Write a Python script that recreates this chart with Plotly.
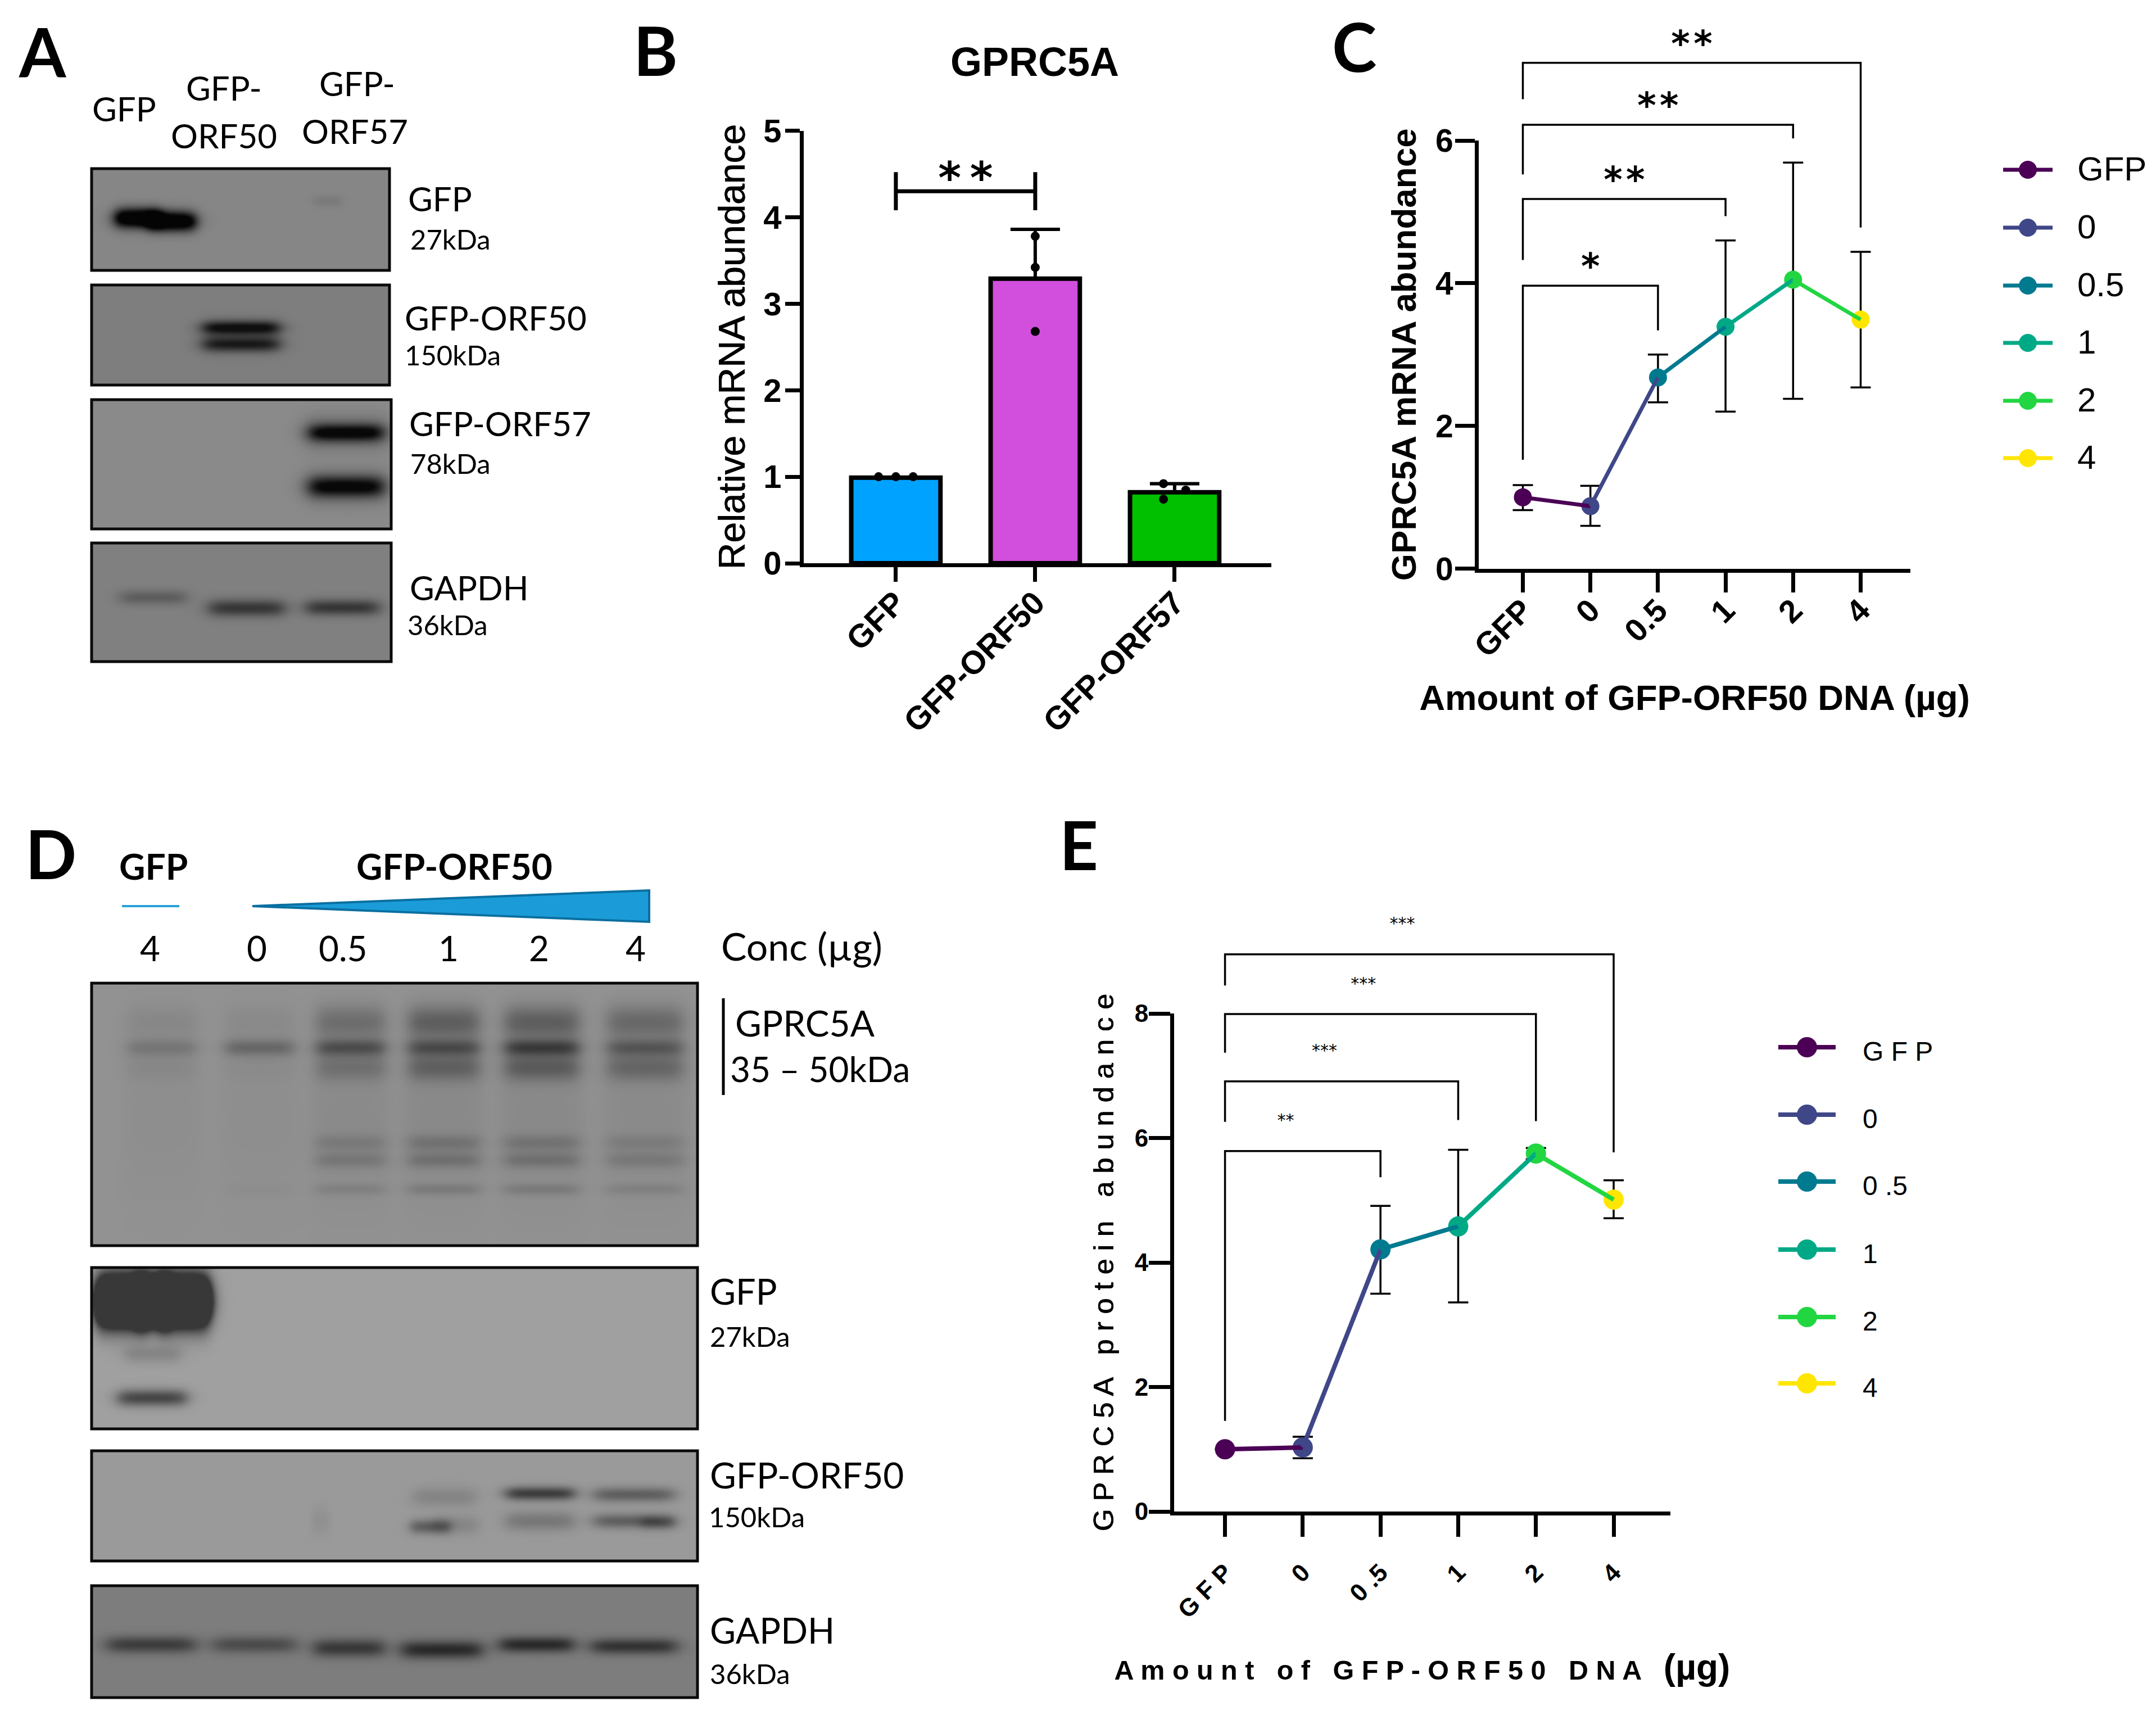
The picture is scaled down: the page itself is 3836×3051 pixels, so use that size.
import numpy as np
import plotly.graph_objects as go

W, H = 3836, 3051
SANS = "Liberation Sans"
LATO = "Lato"

# ---- data ----
B_CATEGORIES = ["GFP", "GFP-ORF50", "GFP-ORF57"]
B_MEANS = [0.99, 3.29, 0.82]
B_ERR_UP = [0.0, 0.57, 0.10]
B_COLORS = ["#00A2FF", "#D24FDD", "#00C000"]
B_POINT_GROUP = [0, 0, 0, 1, 1, 1, 2, 2, 2]
B_POINT_JITTER = [-0.124, 0, 0.124, 0, 0, 0, -0.08, 0.08, -0.08]
B_POINTS = [1.0, 1.0, 1.0, 3.78, 3.42, 2.68, 0.92, 0.845, 0.74]

DOSE_COLORS = ["#4B0055", "#3F4788", "#007A8F", "#00A986", "#22D642", "#FFE600"]

C_LABELS = ["GFP", "0", "0.5", "1", "2", "4"]
C_MEANS = [1.0, 0.875, 2.68, 3.39, 4.05, 3.49]
C_UP = [1.17, 1.16, 3.0, 4.6, 5.69, 4.44]
C_LOW = [0.82, 0.60, 2.33, 2.2, 2.38, 2.54]
# bracket: right group, left foot, top, right foot, stars
C_BRACKET_TO = [2, 3, 4, 5]
C_BRACKET_LEFT = [1.525, 4.325, 5.525, 6.58]
C_BRACKET_TOP = [3.966, 5.18, 6.22, 7.09]
C_BRACKET_RIGHT = [3.34, 4.94, 6.03, 4.78]
C_STARS = ["*", "*\u200a*", "*\u200a*", "*\u200a*"]

E_LABELS = ["G F P", "0", "0 .5", "1", "2", "4"]
E_MEANS = [1.0, 1.03, 4.21, 4.58, 5.75, 5.01]
E_UP = [1.0, 1.2, 4.91, 5.81, 5.84, 5.32]
E_LOW = [1.0, 0.855, 3.5, 3.36, 5.66, 4.71]
E_BRACKET_TO = [2, 3, 4, 5]
E_BRACKET_LEFT = [1.455, 6.26, 7.37, 8.45]
E_BRACKET_TOP = [5.79, 6.91, 7.99, 8.95]
E_BRACKET_RIGHT = [5.37, 6.29, 6.27, 5.77]
E_STARS = ["**", "***", "***", "***"]

# blots: (x0, x1, y0, y1, background grey, darkest grey, bands [centre x, centre y, half w, half h, darkening])
BLOT_A1 = (163, 693, 300, 481, 134, 4, [(245, 386, 40, 17, 130), (305, 394, 42, 17, 130), (273, 390, 70, 18, 60), (582, 357, 25, 10, 12)])
BLOT_A2 = (163, 693, 507, 685, 126, 15, [(428, 582, 67, 12, 105), (428, 612, 67, 13, 85), (428, 597, 67, 26, 25)])
BLOT_A3 = (163, 696, 711, 941, 138, 8, [(615, 769, 64, 15, 110), (615, 865, 64, 18, 105), (615, 769, 72, 28, 40), (615, 865, 72, 28, 40)])
BLOT_A4 = (163, 696, 966, 1177, 128, 20, [(272, 1062, 58, 13, 35), (438, 1081, 66, 15, 75), (608, 1080, 64, 14, 75)])
D1_LANES = [287, 461, 623, 789, 963, 1147]
D1_WIDTHS = [60, 60, 60, 62, 65, 66]
D1_MAIN = [25, 40, 60, 60, 75, 50]
D1_SMEAR = [10, 8, 35, 50, 50, 40]
D1_LOWER = [8, 5, 30, 45, 50, 40]
D1_FAINT_A = [0, 0, 18, 25, 24, 16]
D1_FAINT_B = [0, 0, 22, 28, 28, 20]
D1_FAINT_C = [0, 3, 14, 20, 20, 14]
D1_WASH = [4, 4, 8, 9, 9, 8]
BLOT_D2 = (163, 1241, 2255, 2542, 160, 56, [(218, 2314, 46, 42, 400), (325, 2314, 46, 42, 400), (271, 2314, 30, 36, 400), (271, 2408, 50, 16, 25), (270, 2486, 60, 15, 90)])
BLOT_D3 = (163, 1241, 2581, 2777, 154, 30, [(569, 2705, 15, 25, 10), (790, 2662, 55, 17, 22), (765, 2715, 35, 13, 60), (810, 2712, 40, 17, 20),
                                            (960, 2656, 60, 12, 95), (960, 2705, 60, 17, 35), (1127, 2658, 70, 13, 60), (1127, 2705, 70, 13, 60), (1170, 2708, 30, 12, 30)])
BLOT_D4 = (163, 1241, 2821, 3020, 125, 15, [(268, 2925, 78, 15, 65), (452, 2925, 73, 15, 50), (620, 2931, 62, 16, 70), (785, 2934, 71, 16, 85), (954, 2925, 65, 14, 85), (1127, 2928, 75, 14, 75)])

BLOT_D1 = (163, 1241, 1749, 2216, 146, 30, [])
for cx, hw, m, s, lo, a, b, c, wash in zip(D1_LANES, D1_WIDTHS, D1_MAIN, D1_SMEAR, D1_LOWER, D1_FAINT_A, D1_FAINT_B, D1_FAINT_C, D1_WASH):
    BLOT_D1[6].extend([(cx, 1863, hw, 15, m), (cx, 1818, hw, 30, s), (cx, 1898, hw, 24, lo),
                       (cx, 2032, hw, 14, a), (cx, 2063, hw, 14, b), (cx, 2115, hw, 10, c), (cx, 1990, hw + 10, 150, wash)])

fig = go.Figure()


def blot_trace(spec, step=3):
    x0, x1, y0, y1, bg, floor, bands = spec
    xs = np.arange(x0, x1 + 1, step, dtype=float)
    ys = np.arange(y0, y1 + 1, step, dtype=float)
    z = np.full((len(ys), len(xs)), float(bg))
    for cx, cy, hw, hh, d in bands:
        e = 0.2 * hw + 4
        px = 0.5 * (np.tanh((xs - (cx - hw)) / e) - np.tanh((xs - (cx + hw)) / e))
        py = np.exp(-(((ys - cy) / hh) ** 2))
        z -= d * np.outer(py, px)
    z = np.clip(z, floor, 255).round()
    fig.add_trace(go.Heatmap(x=xs, y=ys, z=z, colorscale=[[0, "#000"], [1, "#fff"]], zmin=0, zmax=255,
                             showscale=False, zsmooth="best", hoverinfo="skip", xaxis="x", yaxis="y"))
    return dict(type="rect", xref="x", yref="y", x0=x0, x1=x1, y0=y0, y1=y1,
                line=dict(color="#0a0a0a", width=5), fillcolor="rgba(0,0,0,0)", layer="above")


shapes = [blot_trace(s) for s in [BLOT_A1, BLOT_A2, BLOT_A3, BLOT_A4, BLOT_D1, BLOT_D2, BLOT_D3, BLOT_D4]]
shapes.append(dict(type="path", xref="x", yref="y", path="M449,1612 L1155,1584 L1155,1640 Z",
                   fillcolor="#1B9CD8", line=dict(color="#0B6FA0", width=4), layer="above"))
shapes.append(dict(type="line", xref="x", yref="y", x0=217, x1=319, y0=1612, y1=1612, line=dict(color="#2AA0D8", width=4)))
shapes.append(dict(type="line", xref="x", yref="y", x0=1287, x1=1287, y0=1776, y1=1948, line=dict(color="#000", width=5)))

annotations = []


def note(x, y, text, size, family=LATO, weight=400, anchor="left"):
    annotations.append(dict(xref="x", yref="y", x=x, y=y, text=text, showarrow=False, xanchor=anchor, yanchor="middle",
                            font=dict(family=family, size=size, color="#000", weight=weight)))


for x, y, t in [(75, 92, "A"), (1166, 89, "B"), (2409, 82, "C"), (90, 1518, "D"), (1919, 1502, "E")]:
    note(x, y, t, 120, weight=700, anchor="center")

for x, y, t in [(221, 193, "GFP"), (398, 156, "GFP-"), (398, 241, "ORF50"), (635, 148, "GFP-"), (631, 233, "ORF57")]:
    note(x, y, t, 60, anchor="center")
for x, y, t, s in [(724, 353, "GFP", 60), (728, 425, "27kDa", 49), (718, 565, "GFP-ORF50", 60), (718, 631, "150kDa", 49),
                   (726, 753, "GFP-ORF57", 60), (728, 824, "78kDa", 49), (727, 1045, "GAPDH", 60), (723, 1111, "36kDa", 49),
                   (1306, 1819, "GPRC5A", 64), (1297, 1901, "35 – 50kDa", 62), (1261, 2296, "GFP", 63), (1261, 2377, "27kDa", 49),
                   (1261, 2623, "GFP-ORF50", 64), (1259, 2698, "150kDa", 49), (1261, 2899, "GAPDH", 63), (1261, 2977, "36kDa", 49),
                   (1281, 1682, "Conc (µg)", 68)]:
    note(x, y, t, s)
note(273, 1540, "GFP", 64, weight=700, anchor="center")
note(808, 1540, "GFP-ORF50", 64, weight=700, anchor="center")
for x, t in zip([267, 457, 610, 798, 959, 1131], ["4", "0", "0.5", "1", "2", "4"]):
    note(x, 1686, t, 62, anchor="center")
note(1841, 110, "GPRC5A", 72, family=SANS, weight=700, anchor="center")


def legend_key(x1, x2, tx, ys, labels, msize, fsize, lw, text_dy):
    xm = (x1 + x2) / 2
    for y, c, t in zip(ys, DOSE_COLORS, labels):
        fig.add_trace(go.Scatter(x=[x1, xm, x2], y=[y, y, y], mode="lines+markers", name=t, showlegend=False, hoverinfo="skip",
                                 line=dict(color=c, width=lw), marker=dict(color=c, opacity=1, size=[0, msize, 0], line=dict(width=0)),
                                 xaxis="x", yaxis="y"))
        note(tx, y + text_dy, t, fsize, family=SANS)


legend_key(3564, 3652, 3694, [302, 405, 508, 610, 713, 815], C_LABELS, 32, 60, 7, -2)
legend_key(3164, 3266, 3312, [1863, 1983, 2102, 2223, 2343, 2461], E_LABELS, 36, 48, 8, 7)

layout_axes = dict(
    xaxis=dict(domain=[0, 1], range=[0, W], visible=False, fixedrange=True, automargin=False),
    yaxis=dict(domain=[0, 1], range=[H, 0], visible=False, fixedrange=True, automargin=False),
)


def axis_pair(n, xpix, ypix, xrange, yrange, tickvals, ticktext, ydtick, xtitle, ytitle, tfont, tlen, lw, xstand, ystand):
    tick_common = dict(showline=True, linecolor="#000", linewidth=lw, ticks="outside", ticklen=tlen, tickwidth=lw,
                       tickcolor="#000", showgrid=False, zeroline=False, tickfont=tfont, fixedrange=True, automargin=False)
    layout_axes[f"xaxis{n}"] = dict(domain=[xpix[0] / W, xpix[1] / W], range=xrange, anchor=f"y{n}", tickvals=tickvals,
                                    ticktext=ticktext, tickangle=-45, title=xtitle, ticklabelstandoff=xstand, **tick_common)
    layout_axes[f"yaxis{n}"] = dict(domain=[1 - ypix[1] / H, 1 - ypix[0] / H], range=yrange, anchor=f"x{n}", dtick=ydtick,
                                    title=ytitle, ticklabelstandoff=ystand, **tick_common)
    # hidden twin of the y axis, same scale, running up to the top of the page so brackets above the axis are not clipped
    unit = (ypix[1] - ypix[0]) / (yrange[1] - yrange[0])
    layout_axes[f"yaxis{n + 10}"] = dict(domain=[1 - ypix[1] / H, 1], range=[yrange[0], yrange[0] + ypix[1] / unit],
                                         anchor=f"x{n}", visible=False, fixedrange=True, automargin=False)


def font(size, weight=700, **kw):
    return dict(family=SANS, size=size, color="#000", weight=weight, **kw)


THICKEN = "0.8px 0 0 #000, 0 0.8px 0 #000"

# ---- panel B ----
axis_pair(2, (1430, 2262), (232.5, 1002), [-0.661, 2.694], [0, 5], [0, 1, 2], B_CATEGORIES, 1, None,
          dict(text="Relative mRNA abundance", font=font(66, 400, shadow=THICKEN), standoff=14), font(58), 26, 7, -20, -5)
fig.add_trace(go.Bar(x=[0, 1, 2], y=B_MEANS, width=0.64, marker=dict(color=B_COLORS, line=dict(color="#000", width=8)),
                     error_y=dict(type="data", symmetric=False, array=B_ERR_UP, arrayminus=[0, 0, 0], color="#000", thickness=6, width=44),
                     xaxis="x2", yaxis="y2", showlegend=False, cliponaxis=False))
fig.add_trace(go.Scatter(x=[g + j for g, j in zip(B_POINT_GROUP, B_POINT_JITTER)], y=B_POINTS, mode="markers",
                         marker=dict(color="#000", size=16), xaxis="x2", yaxis="y2", showlegend=False, cliponaxis=False))
fig.add_trace(go.Scatter(x=[0, 0, 0, 1, 1, 1], y=[4.08, 4.52, 4.30, 4.30, 4.08, 4.52], mode="lines",
                         line=dict(color="#000", width=7), xaxis="x2", yaxis="y2", showlegend=False, cliponaxis=False))
fig.add_trace(go.Scatter(x=[0.5], y=[4.40], mode="text", text=["*\u2009*"], textfont=dict(family="DejaVu Sans", size=78, color="#000", weight=700),
                         xaxis="x2", yaxis="y2", showlegend=False, cliponaxis=False))


def dose_panel(n, labels, means, up, low, to, left, top, right, stars, msize, lwidth, star_size, star_dx, star_dy, star_weight):
    xs = list(range(len(labels)))
    fig.add_trace(go.Scatter(x=xs, y=means, mode="markers", marker=dict(size=2, color="rgba(0,0,0,0)"),
                             error_y=dict(type="data", symmetric=False, array=[u - m for u, m in zip(up, means)],
                                          arrayminus=[m - l for m, l in zip(means, low)], color="#000", thickness=3.5, width=18),
                             xaxis=f"x{n}", yaxis=f"y{n}", showlegend=False, cliponaxis=False, hoverinfo="skip"))
    for t, l, tp, r, s in zip(to, left, top, right, stars):
        fig.add_trace(go.Scatter(x=[0, 0, t, t], y=[l, tp, tp, r], mode="lines", line=dict(color="#000", width=3.5),
                                 xaxis=f"x{n}", yaxis=f"y{n + 10}", showlegend=False, hoverinfo="skip"))
        fig.add_trace(go.Scatter(x=[t / 2 + star_dx], y=[tp + star_dy], mode="text", text=[s],
                                 textfont=dict(family="DejaVu Sans", size=star_size, color="#000", weight=star_weight),
                                 xaxis=f"x{n}", yaxis=f"y{n + 10}", showlegend=False, cliponaxis=False, hoverinfo="skip"))
    fig.add_trace(go.Scatter(x=xs, y=means, mode="markers", marker=dict(size=msize, color=DOSE_COLORS, line=dict(width=0)),
                             xaxis=f"x{n}", yaxis=f"y{n}", showlegend=False, cliponaxis=False, text=labels))
    for i in range(len(xs) - 1):
        fig.add_trace(go.Scatter(x=xs[i:i + 2], y=means[i:i + 2], mode="lines", line=dict(color=DOSE_COLORS[i], width=lwidth),
                                 xaxis=f"x{n}", yaxis=f"y{n}", showlegend=False, cliponaxis=False, hoverinfo="skip"))


# ---- panel C ----
axis_pair(3, (2631, 3399), (250, 1011.6), [-0.653, 5.736], [0, 6], list(range(6)), C_LABELS, 2,
          dict(text="Amount of GFP-ORF50 DNA (µg)", font=font(63.5), standoff=41),
          dict(text="GPRC5A mRNA abundance", font=font(62), standoff=17), font(57), 35, 7, -24, -8)
dose_panel(3, C_LABELS, C_MEANS, C_UP, C_LOW, C_BRACKET_TO, C_BRACKET_LEFT, C_BRACKET_TOP, C_BRACKET_RIGHT, C_STARS, 32, 7, 64, 0, 0.22, 700)

# ---- panel E ----
axis_pair(4, (2089, 2972), (1803, 2689), [-0.655, 5.73], [0, 8], list(range(6)), E_LABELS, 2,
          dict(text="A m o u n t   o f   G F P - O R F 5 0   D N A   <span style='font-size:64px'>(µg)</span>", font=font(48.5), standoff=70),
          dict(text="G P R C 5 A   p r o t e i n   a b u n d a n c e", font=font(50.5, 400, shadow=THICKEN), standoff=24), font(44), 38, 7, 20, -8)
dose_panel(4, E_LABELS, E_MEANS, E_UP, E_LOW, E_BRACKET_TO, E_BRACKET_LEFT, E_BRACKET_TOP, E_BRACKET_RIGHT, E_STARS, 36, 8, 30, -0.22, 0.47, 400)

fig.update_layout(width=W, height=H, margin=dict(l=0, r=0, t=0, b=0, pad=0), paper_bgcolor="white", plot_bgcolor="rgba(0,0,0,0)",
                  showlegend=False, shapes=shapes, annotations=annotations, **layout_axes)
fig.write_html("out.html", config=dict(displayModeBar=False),
               post_script="document.body.style.margin='0';document.body.style.overflow='hidden';")
